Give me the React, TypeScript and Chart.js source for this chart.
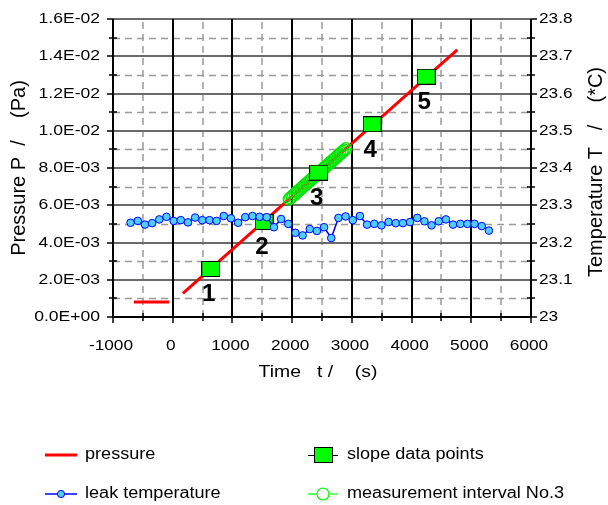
import React, { useEffect, useRef } from 'react';
import { Chart, registerables } from 'chart.js';
Chart.register(...registerables);

// ---------- data ----------
const xTickValues = [-1000, 0, 1000, 2000, 3000, 4000, 5000, 6000];
const pTickValues = [0, 0.002, 0.004, 0.006, 0.008, 0.01, 0.012, 0.014, 0.016];
const tTickValues = [23, 23.1, 23.2, 23.3, 23.4, 23.5, 23.6, 23.7, 23.8];

const seriesNames = ['pressure', 'leak temperature', 'slope data points', 'measurement interval No.3'];

const pressureTime = [-650, -60, 50, 170, 1000, 2000, 3000, 4000, 4765];
const pressureValue = [8.1e-4, 8.0e-4, null, 1.27e-3, 3.63e-3, 6.475e-3, 9.32e-3, 1.2165e-2, 1.434e-2];

const tempTime = [
  -705, -585, -465, -345, -225, -105, 15, 135, 255, 375,
  495, 615, 735, 855, 975, 1095, 1215, 1335, 1455, 1575,
  1695, 1815, 1935, 2055, 2175, 2295, 2415, 2535, 2655, 2775,
  2895, 3015, 3135, 3255, 3375, 3495, 3615, 3735, 3855, 3975,
  4095, 4215, 4335, 4455, 4575, 4695, 4815, 4935, 5055, 5175,
  5295,
];
const tempValue = [
  23.253, 23.258, 23.248, 23.252, 23.262, 23.269, 23.258, 23.26, 23.254, 23.267,
  23.26, 23.26, 23.258, 23.271, 23.265, 23.253, 23.268, 23.271, 23.269, 23.268,
  23.241, 23.263, 23.25, 23.226, 23.219, 23.236, 23.231, 23.241, 23.212, 23.266,
  23.27, 23.26, 23.271, 23.248, 23.25, 23.246, 23.255, 23.252, 23.252, 23.255,
  23.266, 23.257, 23.246, 23.257, 23.262, 23.248, 23.25, 23.25, 23.25, 23.244,
  23.232,
];

const slopeTime = [638, 1530, 2443, 3339, 4245];
const slopeValue = [2.58e-3, 5.1e-3, 7.75e-3, 1.035e-2, 1.29e-2];
const slopeLabels = ['1', '2', '3', '4', '5'];

const intervalTime = [
  1950, 1975, 2000, 2025, 2050, 2075, 2100, 2125, 2150, 2175,
  2200, 2225, 2250, 2275, 2300, 2325, 2350, 2375, 2400, 2425,
  2450, 2475, 2500, 2525, 2550, 2575, 2600, 2625, 2650, 2675,
  2700, 2725, 2750, 2775, 2800, 2825, 2850, 2875, 2900,
];
const intervalValue = [
  6.333e-3, 6.404e-3, 6.475e-3, 6.546e-3, 6.617e-3, 6.688e-3, 6.76e-3, 6.831e-3, 6.902e-3, 6.973e-3,
  7.044e-3, 7.115e-3, 7.186e-3, 7.257e-3, 7.329e-3, 7.4e-3, 7.471e-3, 7.542e-3, 7.613e-3, 7.684e-3,
  7.755e-3, 7.826e-3, 7.898e-3, 7.969e-3, 8.04e-3, 8.111e-3, 8.182e-3, 8.253e-3, 8.324e-3, 8.395e-3,
  8.467e-3, 8.538e-3, 8.609e-3, 8.68e-3, 8.751e-3, 8.822e-3, 8.893e-3, 8.964e-3, 9.036e-3,
];

// ---------- helpers ----------
const FONT = '"Liberation Sans", Arial, sans-serif';

function fmtExp(v: number): string {
  const [m, e] = v.toExponential(1).split('e');
  const n = parseInt(e, 10);
  const sign = n < 0 ? '-' : '+';
  const abs = Math.abs(n).toString().padStart(2, '0');
  return `${m}E${sign}${abs}`;
}

function txt(
  ctx: CanvasRenderingContext2D,
  s: string,
  x: number,
  y: number,
  font: string,
  align: CanvasTextAlign,
  sx = 1,
  rot = 0,
) {
  ctx.save();
  ctx.translate(x, y);
  if (rot) ctx.rotate(rot);
  ctx.scale(sx, 1);
  ctx.font = font;
  ctx.textAlign = align;
  ctx.textBaseline = 'middle';
  ctx.fillStyle = '#000';
  ctx.fillText(s, 0, 0);
  ctx.restore();
}

function makeSquare(): HTMLCanvasElement {
  const sq = document.createElement('canvas');
  sq.width = 19;
  sq.height = 16;
  const c = sq.getContext('2d')!;
  c.fillStyle = '#00FF00';
  c.fillRect(0, 0, 19, 16);
  c.strokeStyle = '#000';
  c.lineWidth = 1;
  c.strokeRect(0.5, 0.5, 18, 15);
  return sq;
}

export default function App() {
  const ref = useRef<HTMLCanvasElement>(null);

  useEffect(() => {
    document.body.style.margin = '0';
    const canvas = ref.current!;
    const square = makeSquare();

    const gridPlugin = {
      id: 'customGrid',
      beforeDatasetsDraw(chart: any) {
        const ctx: CanvasRenderingContext2D = chart.ctx;
        const xs = chart.scales.x;
        const ys = chart.scales.y;
        const ca = chart.chartArea;
        const L = Math.round(ca.left), R = Math.round(ca.right), T = Math.round(ca.top), B = Math.round(ca.bottom);
        ctx.save();
        // minor dashed
        ctx.strokeStyle = '#9a9a9a';
        ctx.lineWidth = 1.5;
        ctx.setLineDash([7, 5]);
        for (let i = 0; i < xTickValues.length - 1; i++) {
          const v = (xTickValues[i] + xTickValues[i + 1]) / 2;
          const px = Math.round(xs.getPixelForValue(v));
          ctx.beginPath(); ctx.moveTo(px, B); ctx.lineTo(px, T); ctx.stroke();
        }
        for (let i = 0; i < pTickValues.length - 1; i++) {
          const v = (pTickValues[i] + pTickValues[i + 1]) / 2;
          const py = Math.round(ys.getPixelForValue(v)) + 0.5;
          ctx.beginPath(); ctx.moveTo(L, py); ctx.lineTo(R, py); ctx.stroke();
        }
        ctx.setLineDash([]);
        // major horizontal
        ctx.strokeStyle = '#6a6a6a';
        ctx.lineWidth = 2;
        for (const v of pTickValues) {
          const py = Math.round(ys.getPixelForValue(v));
          ctx.beginPath(); ctx.moveTo(L, py); ctx.lineTo(R, py); ctx.stroke();
        }
        // major vertical
        ctx.strokeStyle = '#000';
        for (const v of xTickValues) {
          const px = Math.round(xs.getPixelForValue(v));
          ctx.beginPath(); ctx.moveTo(px, B); ctx.lineTo(px, T); ctx.stroke();
        }
        // bottom axis
        ctx.beginPath(); ctx.moveTo(L - 1, B); ctx.lineTo(R + 1, B); ctx.stroke();
        // ticks
        ctx.lineWidth = 1.5;
        for (const v of pTickValues) {
          const py = Math.round(ys.getPixelForValue(v));
          ctx.beginPath(); ctx.moveTo(L - 6, py); ctx.lineTo(L, py); ctx.stroke();
          ctx.beginPath(); ctx.moveTo(R, py); ctx.lineTo(R + 6, py); ctx.stroke();
        }
        for (let i = 0; i < pTickValues.length - 1; i++) {
          const py = Math.round(ys.getPixelForValue((pTickValues[i] + pTickValues[i + 1]) / 2));
          ctx.beginPath(); ctx.moveTo(L - 4, py); ctx.lineTo(L + 4, py); ctx.stroke();
          ctx.beginPath(); ctx.moveTo(R - 4, py); ctx.lineTo(R + 4, py); ctx.stroke();
        }
        for (const v of xTickValues) {
          const px = Math.round(xs.getPixelForValue(v));
          ctx.beginPath(); ctx.moveTo(px, B); ctx.lineTo(px, B + 6); ctx.stroke();
        }
        for (let i = 0; i < xTickValues.length - 1; i++) {
          const px = Math.round(xs.getPixelForValue((xTickValues[i] + xTickValues[i + 1]) / 2));
          ctx.beginPath(); ctx.moveTo(px, B - 4); ctx.lineTo(px, B + 4); ctx.stroke();
        }
        ctx.restore();
      },
      afterDatasetsDraw(chart: any) {
        const ctx: CanvasRenderingContext2D = chart.ctx;
        const xs = chart.scales.x;
        const ys = chart.scales.y;
        const y2 = chart.scales.y2;
        const ca = chart.chartArea;
        const tickFont = `15px ${FONT}`;
        // tick labels
        for (const v of pTickValues) {
          txt(ctx, fmtExp(v), 100, ys.getPixelForValue(v), tickFont, 'right', 1.17);
        }
        for (const v of tTickValues) {
          txt(ctx, String(Number(v.toFixed(1))), 539, y2.getPixelForValue(v), tickFont, 'left', 1.15);
        }
        for (const v of xTickValues) {
          txt(ctx, String(v), xs.getPixelForValue(v) - 2, 346, tickFont, 'center', 1.15);
        }
        // axis titles
        txt(ctx, 'Time   t /    (s)', 318, 372, `17px ${FONT}`, 'center', 1.14);
        txt(ctx, 'Pressure P  /    (Pa)', 19, (ca.top + ca.bottom) / 2, `20px ${FONT}`, 'center', 1, -Math.PI / 2);
        txt(ctx, 'Temperature T   /    (*C)', 596, 172, `20px ${FONT}`, 'center', 1, -Math.PI / 2);
        // point numbers
        for (let i = 0; i < slopeTime.length; i++) {
          const px = xs.getPixelForValue(slopeTime[i]);
          const py = ys.getPixelForValue(slopeValue[i]);
          txt(ctx, slopeLabels[i], px - 2, py + 26, `bold 23px ${FONT}`, 'center', 1.05);
        }
        // legend
        const legFont = `16px ${FONT}`;
        const r1 = 455, r2 = 494;
        ctx.save();
        ctx.strokeStyle = '#FF0000'; ctx.lineWidth = 3;
        ctx.beginPath(); ctx.moveTo(45, r1); ctx.lineTo(77, r1); ctx.stroke();
        ctx.strokeStyle = '#0000FF'; ctx.lineWidth = 1.5;
        ctx.beginPath(); ctx.moveTo(45, r2); ctx.lineTo(77, r2); ctx.stroke();
        ctx.fillStyle = '#4FCFFF'; ctx.lineWidth = 1;
        ctx.beginPath(); ctx.arc(61, r2, 3.6, 0, Math.PI * 2); ctx.fill(); ctx.stroke();
        ctx.strokeStyle = '#000'; ctx.lineWidth = 1;
        ctx.beginPath(); ctx.moveTo(308, r1 + 0.5); ctx.lineTo(338, r1 + 0.5); ctx.stroke();
        ctx.drawImage(square, 314, r1 - 8);
        ctx.strokeStyle = '#00FF00'; ctx.lineWidth = 1.2;
        ctx.beginPath(); ctx.moveTo(308, r2); ctx.lineTo(338, r2); ctx.stroke();
        ctx.fillStyle = '#fff';
        ctx.beginPath(); ctx.arc(323, r2, 6, 0, Math.PI * 2); ctx.fill(); ctx.stroke();
        ctx.restore();
        txt(ctx, seriesNames[0], 85, r1, legFont, 'left', 1.13);
        txt(ctx, seriesNames[1], 85, r2, legFont, 'left', 1.13);
        txt(ctx, seriesNames[2], 347, r1, legFont, 'left', 1.13);
        txt(ctx, seriesNames[3], 347, r2, legFont, 'left', 1.13);
      },
    };

    const chart = new Chart(canvas, {
      type: 'line',
      data: {
        datasets: [
          {
            label: seriesNames[1],
            data: tempTime.map((t, i) => ({ x: t, y: tempValue[i] })),
            xAxisID: 'x',
            yAxisID: 'y2',
            borderColor: '#0000FF',
            borderWidth: 1.5,
            pointRadius: 3.8,
            pointBackgroundColor: '#4FCFFF',
            pointBorderColor: '#0000FF',
            pointBorderWidth: 1,
            order: 0,
          },
          {
            label: seriesNames[2],
            data: slopeTime.map((t, i) => ({ x: t, y: slopeValue[i] })),
            xAxisID: 'x',
            yAxisID: 'y',
            showLine: false,
            pointStyle: square as any,
            pointRadius: 10,
            order: 1,
          },
          {
            label: seriesNames[3],
            data: intervalTime.map((t, i) => ({ x: t, y: intervalValue[i] })),
            xAxisID: 'x',
            yAxisID: 'y',
            borderColor: '#00FF00',
            borderWidth: 1,
            pointRadius: 6,
            pointBackgroundColor: 'rgba(0,0,0,0)',
            pointBorderColor: '#00E600',
            pointBorderWidth: 1.2,
            order: 2,
          },
          {
            label: seriesNames[0],
            data: pressureTime.map((t, i) => ({ x: t, y: pressureValue[i] as any })),
            xAxisID: 'x',
            yAxisID: 'y',
            borderColor: '#FF0000',
            borderWidth: 3,
            pointRadius: 0,
            spanGaps: false,
            order: 3,
          },
        ],
      },
      options: {
        responsive: false,
        animation: false,
        events: [],
        layout: { padding: { left: 113, right: 77, top: 19, bottom: 188 } },
        plugins: { legend: { display: false }, tooltip: { enabled: false } },
        scales: {
          x: { type: 'linear', min: -1000, max: 6000, display: false },
          y: { type: 'linear', min: 0, max: 0.016, display: false },
          y2: { type: 'linear', min: 23, max: 23.8, display: false },
        },
      },
      plugins: [gridPlugin],
    });
    return () => chart.destroy();
  }, []);

  return (
    <div style={{ width: 608, height: 505 }}>
      <canvas ref={ref} width={608} height={505} style={{ display: 'block' }} />
    </div>
  );
}
